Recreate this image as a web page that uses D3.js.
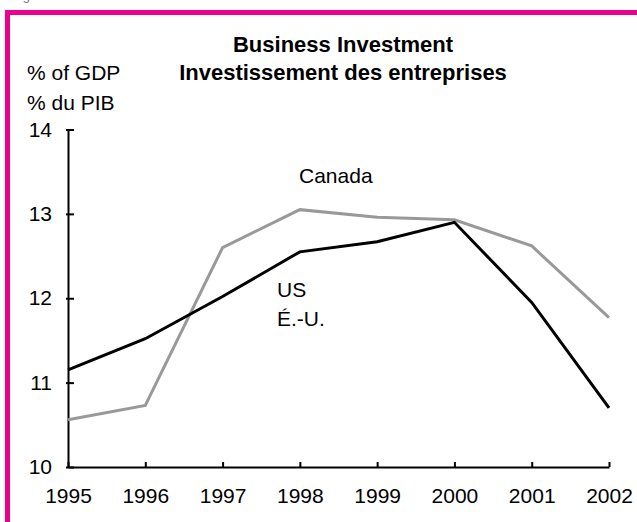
<!DOCTYPE html>
<html>
<head>
<meta charset="utf-8">
<script src="https://cdn.jsdelivr.net/npm/d3@7"></script>
<style>
  body { margin: 0; background: #fff; }
  text { font-family: Arial, "Liberation Sans", sans-serif; }
</style>
</head>
<body>
<svg id="chart" width="637" height="522"></svg>
<script>
  // Chart data.
  var years  = [ 1995, 1996, 1997, 1998, 1999, 2000, 2001, 2002 ],
      canada = [ 10.56, 10.73, 12.60, 13.05, 12.96, 12.93, 12.62, 11.77 ],
      us     = [ 11.15, 11.52, 12.02, 12.55, 12.67, 12.90, 11.95, 10.70 ],
      yTicks = [ 10, 11, 12, 13, 14 ];

  var pink  = '#ec008c',
      grey  = '#999999',
      black = '#000000';

  var svg = d3.select( '#chart' );

  var x = d3.scaleLinear().domain( [ 1995, 2002 ] ).range( [ 68, 609 ] ),
      y = d3.scaleLinear().domain( [ 10, 14 ] ).range( [ 467, 129.5 ] );

  // Frame: top and left pink bars, and a clipped figure label above.
  svg.append( 'text' )
    .attr( 'x', 12 )
    .attr( 'y', 0 )
    .style( 'font-size', '13px' )
    .style( 'fill', '#777' )
    .text( 'Figure' );

  svg.append( 'rect' )
    .attr( 'x', 5 ).attr( 'y', 10 )
    .attr( 'width', 632 ).attr( 'height', 5 )
    .style( 'fill', pink );

  svg.append( 'rect' )
    .attr( 'x', 5 ).attr( 'y', 10 )
    .attr( 'width', 5 ).attr( 'height', 512 )
    .style( 'fill', pink );

  // Titles.
  svg.append( 'text' )
    .attr( 'x', 343 ).attr( 'y', 52 )
    .style( 'text-anchor', 'middle' )
    .style( 'font-size', '22px' )
    .style( 'font-weight', 'bold' )
    .text( 'Business Investment' );

  svg.append( 'text' )
    .attr( 'x', 343 ).attr( 'y', 80 )
    .style( 'text-anchor', 'middle' )
    .style( 'font-size', '22px' )
    .style( 'font-weight', 'bold' )
    .text( 'Investissement des entreprises' );

  svg.append( 'text' )
    .attr( 'x', 27 ).attr( 'y', 80 )
    .style( 'font-size', '21px' )
    .text( '% of GDP' );

  svg.append( 'text' )
    .attr( 'x', 27 ).attr( 'y', 110 )
    .style( 'font-size', '21px' )
    .text( '% du PIB' );

  // Axes.
  var yAxis = d3.axisLeft( y )
    .tickValues( yTicks )
    .tickFormat( d3.format( 'd' ) )
    .tickSizeInner( -6 )
    .tickSizeOuter( 0 )
    .tickPadding( 16 );

  var gy = svg.append( 'g' )
    .attr( 'transform', 'translate(' + x( 1995 ) + ',0)' )
    .call( yAxis );

  gy.selectAll( '.tick line' ).attr( 'x1', -2 );

  var xAxis = d3.axisBottom( x )
    .tickValues( years )
    .tickFormat( d3.format( 'd' ) )
    .tickSizeInner( -5 )
    .tickSizeOuter( 0 )
    .tickPadding( 21 );

  var gx = svg.append( 'g' )
    .attr( 'transform', 'translate(0,' + y( 10 ) + ')' )
    .call( xAxis );

  svg.selectAll( '.domain, .tick line' )
    .style( 'stroke', black )
    .style( 'stroke-width', 2 );

  svg.selectAll( '.tick text' )
    .style( 'font-family', 'Arial, "Liberation Sans", sans-serif' )
    .style( 'font-size', '21px' )
    .style( 'fill', black );

  // Series lines.
  var line = d3.line()
    .x( function( d, i ) { return x( years[ i ] ); } )
    .y( function( d ) { return y( d ); } );

  svg.append( 'path' )
    .datum( canada )
    .attr( 'd', line )
    .style( 'fill', 'none' )
    .style( 'stroke', grey )
    .style( 'stroke-width', 3 );

  svg.append( 'path' )
    .datum( us )
    .attr( 'd', line )
    .style( 'fill', 'none' )
    .style( 'stroke', black )
    .style( 'stroke-width', 3 );

  // Series labels.
  svg.append( 'text' )
    .attr( 'x', 299 ).attr( 'y', 183 )
    .style( 'font-size', '21px' )
    .text( 'Canada' );

  svg.append( 'text' )
    .attr( 'x', 277 ).attr( 'y', 297 )
    .style( 'font-size', '21px' )
    .text( 'US' );

  svg.append( 'text' )
    .attr( 'x', 277 ).attr( 'y', 326 )
    .style( 'font-size', '21px' )
    .text( 'É.-U.' );
</script>
</body>
</html>
